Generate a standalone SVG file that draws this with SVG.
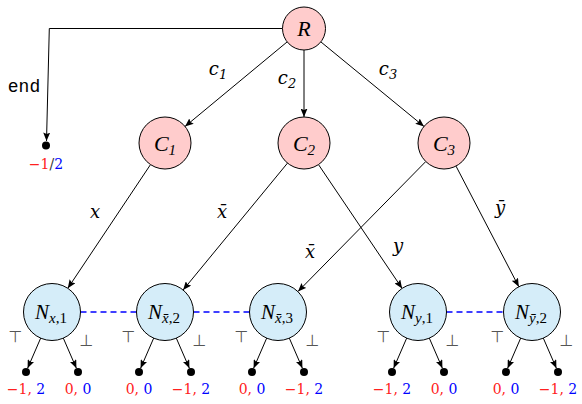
<svg xmlns="http://www.w3.org/2000/svg" width="582" height="404" viewBox="0 0 582 404">
<style>
.pink{fill:#ffcccc;stroke:#000;stroke-width:1}
.blue{fill:#d5edf9;stroke:#000;stroke-width:1}
.edge{stroke:#000;stroke-width:1;fill:none}
.dash{stroke:#0000ff;stroke-width:1.4;stroke-dasharray:6,4;fill:none}
.dot{fill:#000}
</style>
<defs>
<marker id="arr" markerWidth="9" markerHeight="7" refX="8.5" refY="3.5" orient="auto" markerUnits="userSpaceOnUse">
<path d="M0,0 L8.5,3.5 L0,7 L1.5,3.5 z" fill="#000"/>
</marker>
</defs>

<g id="connectors">
<path class="edge" d="M282.5,28.5 L49.3,28.5 L46.5,141" marker-end="url(#arr)"/>
<line class="edge" x1="287" y1="42" x2="185" y2="126.5" marker-end="url(#arr)"/>
<line class="edge" x1="304" y1="50" x2="304" y2="117" marker-end="url(#arr)"/>
<line class="edge" x1="321" y1="42" x2="424" y2="126.5" marker-end="url(#arr)"/>
<line class="edge" x1="150.5" y1="164.6" x2="67.8" y2="288.3" marker-end="url(#arr)"/>
<line class="edge" x1="287.5" y1="163.1" x2="183.1" y2="290" marker-end="url(#arr)"/>
<line class="edge" x1="318.5" y1="164.6" x2="402.1" y2="288.4" marker-end="url(#arr)"/>
<line class="edge" x1="425.8" y1="161.5" x2="298" y2="291.5" marker-end="url(#arr)"/>
<line class="edge" x1="456" y1="166.1" x2="518.8" y2="286.7" marker-end="url(#arr)"/>
<line class="dash" x1="80.5" y1="312" x2="136.5" y2="312"/>
<line class="dash" x1="193.5" y1="312" x2="249.5" y2="312"/>
<line class="dash" x1="446.5" y1="312" x2="503.5" y2="312"/>
<line class="edge" x1="40.7" y1="338.1" x2="27.6" y2="368.3" marker-end="url(#arr)"/>
<line class="edge" x1="63.3" y1="338.1" x2="76.4" y2="368.3" marker-end="url(#arr)"/>
<line class="edge" x1="153.7" y1="338.1" x2="140.6" y2="368.3" marker-end="url(#arr)"/>
<line class="edge" x1="176.3" y1="338.1" x2="189.4" y2="368.3" marker-end="url(#arr)"/>
<line class="edge" x1="266.7" y1="338.1" x2="253.6" y2="368.3" marker-end="url(#arr)"/>
<line class="edge" x1="289.3" y1="338.1" x2="302.4" y2="368.3" marker-end="url(#arr)"/>
<line class="edge" x1="406.7" y1="338.1" x2="393.6" y2="368.3" marker-end="url(#arr)"/>
<line class="edge" x1="429.3" y1="338.1" x2="442.4" y2="368.3" marker-end="url(#arr)"/>
<line class="edge" x1="520.7" y1="338.1" x2="507.6" y2="368.3" marker-end="url(#arr)"/>
<line class="edge" x1="543.3" y1="338.1" x2="556.4" y2="368.3" marker-end="url(#arr)"/>
<text x="24" y="92" text-anchor="middle" font-family="Liberation Mono" font-size="18" fill="#000">end</text>
<g font-family="DejaVu Serif" font-style="italic" font-size="18" fill="#000" text-anchor="middle">
<text x="218" y="75">c<tspan font-size="13" dy="4">1</tspan></text>
<text x="287" y="84">c<tspan font-size="13" dy="4">2</tspan></text>
<text x="388" y="75">c<tspan font-size="13" dy="4">3</tspan></text>
<text x="95" y="218">x</text>
<text x="222" y="218">x̄</text>
<text x="310" y="258">x̄</text>
<text x="398" y="252">y</text>
<text x="500" y="214">ȳ</text>
</g>
</g>

<g font-family="Liberation Serif" font-style="italic" font-size="22" fill="#000" text-anchor="middle">
<g id="R"><circle class="pink" cx="304" cy="28.5" r="21.5"/><text x="304" y="36">R</text></g>
<g id="C1"><circle class="pink" cx="165" cy="143" r="26"/><text x="165" y="150.5">C<tspan font-size="15" dy="4">1</tspan></text></g>
<g id="C2"><circle class="pink" cx="304" cy="143" r="26"/><text x="304" y="150.5">C<tspan font-size="15" dy="4">2</tspan></text></g>
<g id="C3"><circle class="pink" cx="444" cy="143" r="26"/><text x="444" y="150.5">C<tspan font-size="15" dy="4">3</tspan></text></g>
</g>

<g id="end-leaf"><circle class="dot" cx="46" cy="145.5" r="4"/><text x="46" y="169" text-anchor="middle" font-family="DejaVu Serif" font-size="14"><tspan fill="#ff2020">−1</tspan><tspan fill="#333">/</tspan><tspan fill="#0000ff">2</tspan></text></g>

<g id="bottom" text-anchor="middle">
<g id="Nx1"><circle class="blue" cx="52" cy="312" r="28.5"/><text x="51" y="318.5" font-family="Liberation Serif" font-style="italic" font-size="21" fill="#000">N<tspan font-size="15" dy="4">x</tspan><tspan font-size="15" font-style="normal">,1</tspan></text>
<text x="15.5" y="342" font-family="DejaVu Sans" font-size="16" fill="#555">⊤</text><text x="86.5" y="346" font-family="DejaVu Sans" font-size="16" fill="#555">⊥</text>
<circle class="dot" cx="26" cy="372" r="4"/><circle class="dot" cx="78" cy="372" r="4"/>
<text x="26" y="394" font-family="DejaVu Serif" font-size="14"><tspan fill="#ff2020">−1,</tspan> <tspan fill="#0000ff">2</tspan></text>
<text x="78" y="394" font-family="DejaVu Serif" font-size="14"><tspan fill="#ff2020">0,</tspan> <tspan fill="#0000ff">0</tspan></text></g>

<g id="Nxb2"><circle class="blue" cx="165" cy="312" r="28.5"/><text x="164" y="318.5" font-family="Liberation Serif" font-style="italic" font-size="21" fill="#000">N<tspan font-size="15" dy="4">x̄</tspan><tspan font-size="15" font-style="normal">,2</tspan></text>
<text x="128.5" y="342" font-family="DejaVu Sans" font-size="16" fill="#555">⊤</text><text x="199.5" y="346" font-family="DejaVu Sans" font-size="16" fill="#555">⊥</text>
<circle class="dot" cx="139" cy="372" r="4"/><circle class="dot" cx="191" cy="372" r="4"/>
<text x="139" y="394" font-family="DejaVu Serif" font-size="14"><tspan fill="#ff2020">0,</tspan> <tspan fill="#0000ff">0</tspan></text>
<text x="191" y="394" font-family="DejaVu Serif" font-size="14"><tspan fill="#ff2020">−1,</tspan> <tspan fill="#0000ff">2</tspan></text></g>

<g id="Nxb3"><circle class="blue" cx="278" cy="312" r="28.5"/><text x="277" y="318.5" font-family="Liberation Serif" font-style="italic" font-size="21" fill="#000">N<tspan font-size="15" dy="4">x̄</tspan><tspan font-size="15" font-style="normal">,3</tspan></text>
<text x="241.5" y="342" font-family="DejaVu Sans" font-size="16" fill="#555">⊤</text><text x="312.5" y="346" font-family="DejaVu Sans" font-size="16" fill="#555">⊥</text>
<circle class="dot" cx="252" cy="372" r="4"/><circle class="dot" cx="304" cy="372" r="4"/>
<text x="252" y="394" font-family="DejaVu Serif" font-size="14"><tspan fill="#ff2020">0,</tspan> <tspan fill="#0000ff">0</tspan></text>
<text x="304" y="394" font-family="DejaVu Serif" font-size="14"><tspan fill="#ff2020">−1,</tspan> <tspan fill="#0000ff">2</tspan></text></g>

<g id="Ny1"><circle class="blue" cx="418" cy="312" r="28.5"/><text x="417" y="318.5" font-family="Liberation Serif" font-style="italic" font-size="21" fill="#000">N<tspan font-size="15" dy="4">y</tspan><tspan font-size="15" font-style="normal">,1</tspan></text>
<text x="383.5" y="342" font-family="DejaVu Sans" font-size="16" fill="#555">⊤</text><text x="452.5" y="346" font-family="DejaVu Sans" font-size="16" fill="#555">⊥</text>
<circle class="dot" cx="392" cy="372" r="4"/><circle class="dot" cx="444" cy="372" r="4"/>
<text x="392" y="394" font-family="DejaVu Serif" font-size="14"><tspan fill="#ff2020">−1,</tspan> <tspan fill="#0000ff">2</tspan></text>
<text x="444" y="394" font-family="DejaVu Serif" font-size="14"><tspan fill="#ff2020">0,</tspan> <tspan fill="#0000ff">0</tspan></text></g>

<g id="Nyb2"><circle class="blue" cx="532" cy="312" r="28.5"/><text x="531" y="318.5" font-family="Liberation Serif" font-style="italic" font-size="21" fill="#000">N<tspan font-size="15" dy="4">ȳ</tspan><tspan font-size="15" font-style="normal">,2</tspan></text>
<text x="497.5" y="342" font-family="DejaVu Sans" font-size="16" fill="#555">⊤</text><text x="566.5" y="346" font-family="DejaVu Sans" font-size="16" fill="#555">⊥</text>
<circle class="dot" cx="506" cy="372" r="4"/><circle class="dot" cx="558" cy="372" r="4"/>
<text x="506" y="394" font-family="DejaVu Serif" font-size="14"><tspan fill="#ff2020">0,</tspan> <tspan fill="#0000ff">0</tspan></text>
<text x="558" y="394" font-family="DejaVu Serif" font-size="14"><tspan fill="#ff2020">−1,</tspan> <tspan fill="#0000ff">2</tspan></text></g>
</g>
</svg>
